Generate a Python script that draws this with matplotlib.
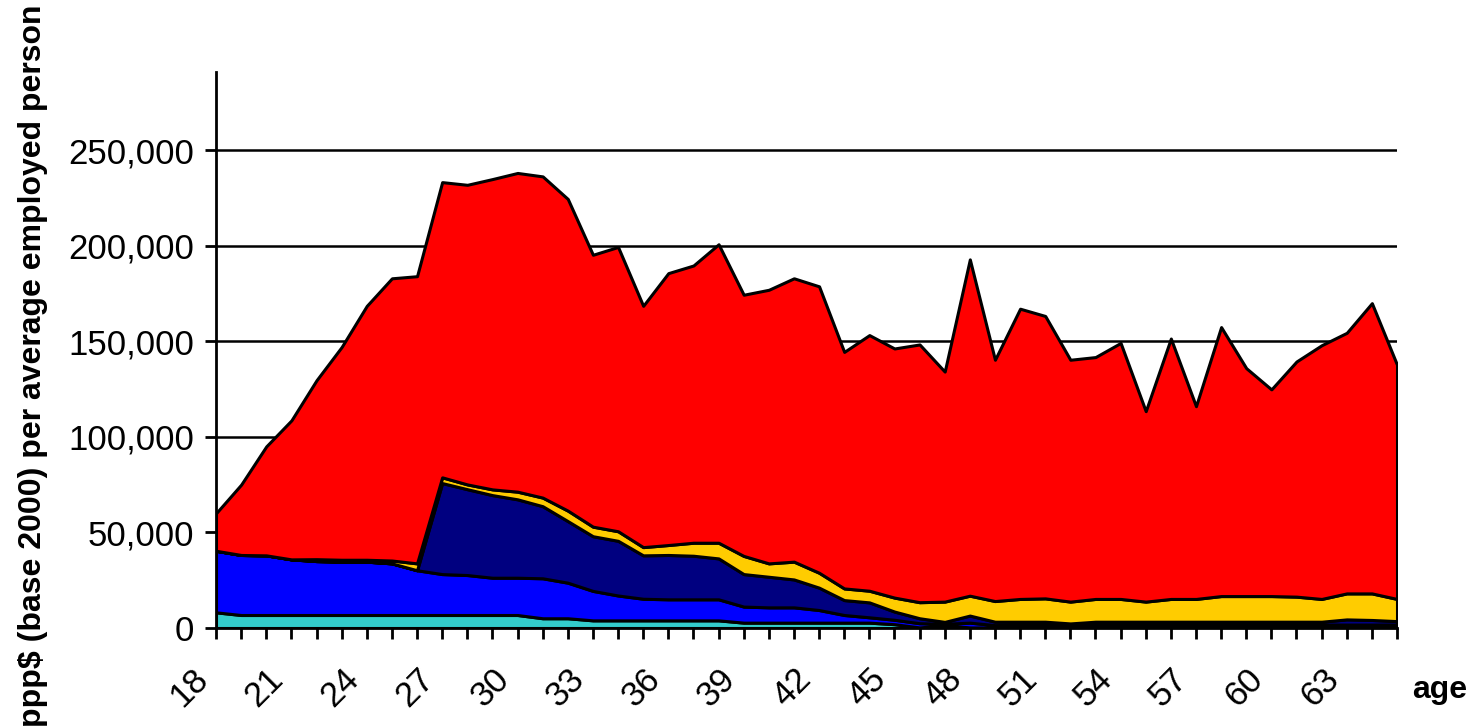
import numpy as np
import matplotlib
matplotlib.use('Agg')
import matplotlib.pyplot as plt
import matplotlib.transforms as mtransforms
from matplotlib.ticker import FuncFormatter

plt.rcParams['font.family'] = ['Liberation Sans', 'DejaVu Sans']

ages = list(range(18, 66))

# values in ppp$ (thousands), bottom layer first
cyan = [8.2, 6.8, 6.8, 6.8, 6.8, 6.8, 6.8, 6.8, 6.8, 6.8, 6.8, 6.8, 6.8,
        5.1, 5.1, 4.0, 4.0, 4.0, 4.0, 4.0, 4.0, 2.8, 2.8, 2.8, 2.8, 2.8,
        2.8, 2.0, 0.3, 1.5, 0.3, 0.3, 0.3, 0.3, 0.3, 0.3, 0.3, 0.3, 0.3,
        0.3, 0.3, 0.3, 0.3, 0.3, 0.3, 0.3, 0.3, 0.3]
blue = [32.2, 31.4, 31.2, 29.1, 28.2, 27.9, 27.9, 27.0, 23.4, 21.4, 20.9,
        19.5, 19.5, 20.9, 18.6, 15.4, 13.0, 11.3, 11.0, 11.0, 11.0, 8.4,
        8.0, 8.0, 6.6, 4.0, 2.8, 2.3, 2.2, 0.7, 2.5, 1.2, 1.5, 1.5, 1.5,
        1.5, 1.5, 1.5, 1.5, 1.5, 1.5, 1.5, 1.5, 1.5, 1.5, 1.5, 1.5, 1.5]
navy = [0, 0, 0, 0, 0, 0, 0, 0, 0, 47.6, 44.9, 43.2, 41.0, 37.7, 32.2,
        28.6, 28.6, 22.7, 23.2, 22.8, 21.4, 17.0, 16.0, 14.6, 11.7, 7.8,
        7.8, 4.3, 2.6, 1.0, 3.7, 1.8, 1.5, 1.5, 0.6, 1.5, 1.5, 1.5, 1.5,
        1.5, 1.5, 1.5, 1.5, 1.5, 1.5, 2.7, 2.4, 1.8]
gold = [0, 0, 0, 0, 1.0, 1.0, 1.0, 1.5, 3.6, 3.0, 2.5, 3.0, 4.0, 4.5,
        5.5, 5.0, 5.0, 4.3, 5.2, 6.8, 8.2, 9.5, 7.0, 9.3, 7.8, 6.1, 6.1,
        7.3, 8.4, 10.6, 10.4, 10.8, 11.9, 12.2, 11.4, 11.9, 11.9, 10.5,
        11.9, 11.9, 13.4, 13.4, 13.4, 13.1, 11.9, 13.6, 13.9, 11.6]
red = [19.6, 36.8, 57.0, 72.7, 93.6, 111.3, 132.8, 147.6, 150.2, 154.4,
       156.7, 162.3, 166.7, 168.0, 163.0, 142.2, 148.7, 126.2, 142.2,
       145.0, 156.1, 136.6, 143.1, 148.2, 149.8, 123.7, 133.7, 130.3,
       134.8, 120.3, 175.9, 126.2, 151.8, 147.7, 126.5, 126.5, 133.9,
       99.6, 136.2, 100.8, 140.7, 119.2, 108.1, 123.0, 132.7, 136.3,
       151.8, 122.5]

colors = ['#33CCCC', '#0000FF', '#000080', '#FFCC00', '#FF0000']
yticks = [0, 50000, 100000, 150000, 200000, 250000]

layers = np.array([cyan, blue, navy, gold, red]) * 1000

fig = plt.figure(figsize=(14.74, 7.27), dpi=100)
ax = fig.add_axes([216 / 1474, 1 - 628 / 727, 1181 / 1474, 556 / 727])

ax.stackplot(ages, layers, colors=colors, edgecolor='black', linewidth=2.2,
             zorder=3)

ax.set_xlim(18, 65)
ax.set_ylim(0, 290800)

ax.set_yticks(yticks)
ax.yaxis.set_major_formatter(FuncFormatter(lambda v, p: f'{int(v):,}'))
ax.grid(axis='y', color='black', linewidth=1.8, zorder=1)
ax.set_axisbelow(True)

ax.set_xticks(ages)
ax.set_xticklabels([str(a) if (a - 18) % 3 == 0 and a < 65 else '' for a in ages])

for s in ['top', 'right']:
    ax.spines[s].set_visible(False)
for s in ['left', 'bottom']:
    ax.spines[s].set_linewidth(2)
    ax.spines[s].set_zorder(5)

ax.tick_params(axis='y', length=8, width=2, pad=8, labelsize=25)
ax.tick_params(axis='x', length=8, width=2, pad=35, labelsize=25)

shift = mtransforms.ScaledTranslation(-0.27, 0, fig.dpi_scale_trans)
for lab in ax.get_xticklabels():
    lab.set_rotation(45)
    lab.set_ha('center')
    lab.set_va('center')
    lab.set_rotation_mode('anchor')
    lab.set_transform(lab.get_transform() + shift)

fig.text(1440 / 1474, 1 - 690 / 727, 'age', fontsize=23, fontweight='bold',
         ha='center', va='center')
fig.text(33 / 1474, 1 - 366 / 727,
         'ppp$ (base 2000) per average employed person',
         fontsize=23, fontweight='bold', rotation=90, ha='center', va='center')

fig.savefig('out.png', dpi=100)
